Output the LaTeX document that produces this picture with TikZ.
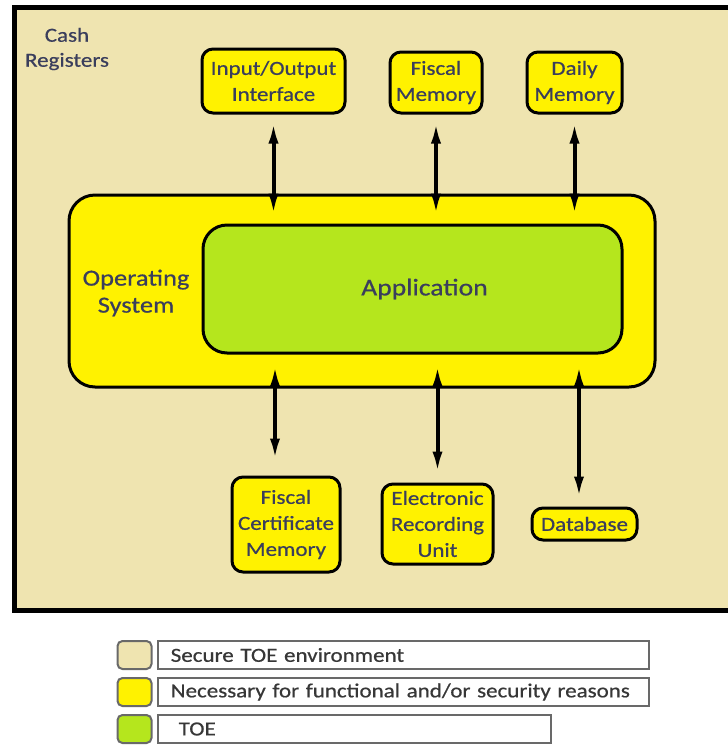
\documentclass[tikz,border=0pt]{standalone}
\usepackage{fontspec}
\setmainfont{Carlito}[FakeStretch=1.15,FakeBold=0.6]
\usetikzlibrary{arrows.meta}
\definecolor{tanbg}{RGB}{239,228,176}
\definecolor{ylw}{RGB}{255,242,0}
\definecolor{limeg}{RGB}{181,230,29}
\definecolor{txt}{RGB}{58,62,92}
\definecolor{legtxt}{RGB}{55,55,55}
\definecolor{leggray}{RGB}{105,105,105}
\begin{document}
\begin{tikzpicture}[x=1pt,y=-1pt,
  comp/.style={draw=black, line width=3pt, fill=ylw, rounded corners=11pt,
    text=txt, align=center, font=\fontsize{20}{26}\selectfont, inner sep=0pt},
  bidir/.style={line width=4pt, {Latex[length=22pt,width=10pt]}-{Latex[length=22pt,width=10pt]}},
  swatch/.style={draw=leggray, line width=2pt, rounded corners=5pt, minimum width=34pt, minimum height=28pt, inner sep=0pt},
  legbox/.style={draw=leggray, line width=1.5pt, minimum height=28pt, inner xsep=13pt, inner ysep=0pt,
    text width=#1, align=left, text=legtxt, font=\fontsize{20}{24}\selectfont, anchor=west},
  lbl/.style={text=txt, align=center, inner sep=0pt}
]
\useasboundingbox (0,0) rectangle (728,748);
\fill[white] (0,0) rectangle (728,748);
\begin{scope}
  \clip (0,0) rectangle (728,748);
  \draw[line width=5pt, fill=tanbg] (14.5,7.5) rectangle (760,610);
\end{scope}

\node[lbl, font=\fontsize{20}{25}\selectfont] (cash) at (67,49) {Cash\\Registers};

% top components
\node[comp, minimum width=143pt, minimum height=64pt] (io) at (273.5,81) {Input/Output\\Interface};
\node[comp, minimum width=92pt, minimum height=61pt] (fm) at (436,82.5) {Fiscal\\Memory};
\node[comp, minimum width=95pt, minimum height=61pt] (dm) at (574.5,82.5) {Daily\\Memory};

% operating system and application
\node[comp, rounded corners=26pt, minimum width=586pt, minimum height=192pt] (os) at (362,291) {};
\node[lbl, font=\fontsize{23}{27}\selectfont] (oslbl) at (136,293) {Operating\\System};
\node[comp, fill=limeg, rounded corners=24pt, minimum width=419pt, minimum height=128pt,
  font=\fontsize{24}{28}\selectfont] (app) at (412.5,289) {\hspace*{24pt}Application};

% bottom components
\node[comp, minimum width=108pt, minimum height=95pt] (fcm) at (286,524.5) {Fiscal\\Certificate\\Memory};
\node[comp, minimum width=111pt, minimum height=80pt] (eru) at (437.5,524) {Electronic\\Recording\\Unit};
\node[comp, minimum width=105pt, minimum height=32pt] (db) at (584.5,524) {Database};

% connectors top
\draw[bidir, shorten <=7pt, shorten >=8pt] (io.south) -- (io.south |- app.north);
\draw[bidir, shorten <=7pt, shorten >=8pt] (fm.south) -- (fm.south |- app.north);
\draw[bidir, shorten <=7pt, shorten >=8pt] (dm.south) -- (dm.south |- app.north);
% connectors bottom
\draw[bidir, shorten <=10pt, shorten >=15pt] ([xshift=-11pt]fcm.north |- app.south) -- ([xshift=-11pt]fcm.north);
\draw[bidir, shorten <=10pt, shorten >=9pt] (eru.north |- app.south) -- (eru.north);
\draw[bidir, shorten <=10pt, shorten >=8pt] ([xshift=-5.5pt]db.north |- app.south) -- ([xshift=-5.5pt]db.north);

% legend
\node[swatch, fill=tanbg] (s1) at (134.5,655) {};
\node[swatch, fill=ylw] (s2) at (134.5,692) {};
\node[swatch, fill=limeg] (s3) at (134.5,729) {};
\node[legbox=465pt] (l1) at (157,655) {Secure TOE environment};
\node[legbox=465pt] (l2) at (157,692) {Necessary for functional and/or security reasons};
\node[legbox=367pt] (l3) at (157,729) {\hspace*{8pt}TOE};
\end{tikzpicture}
\end{document}
